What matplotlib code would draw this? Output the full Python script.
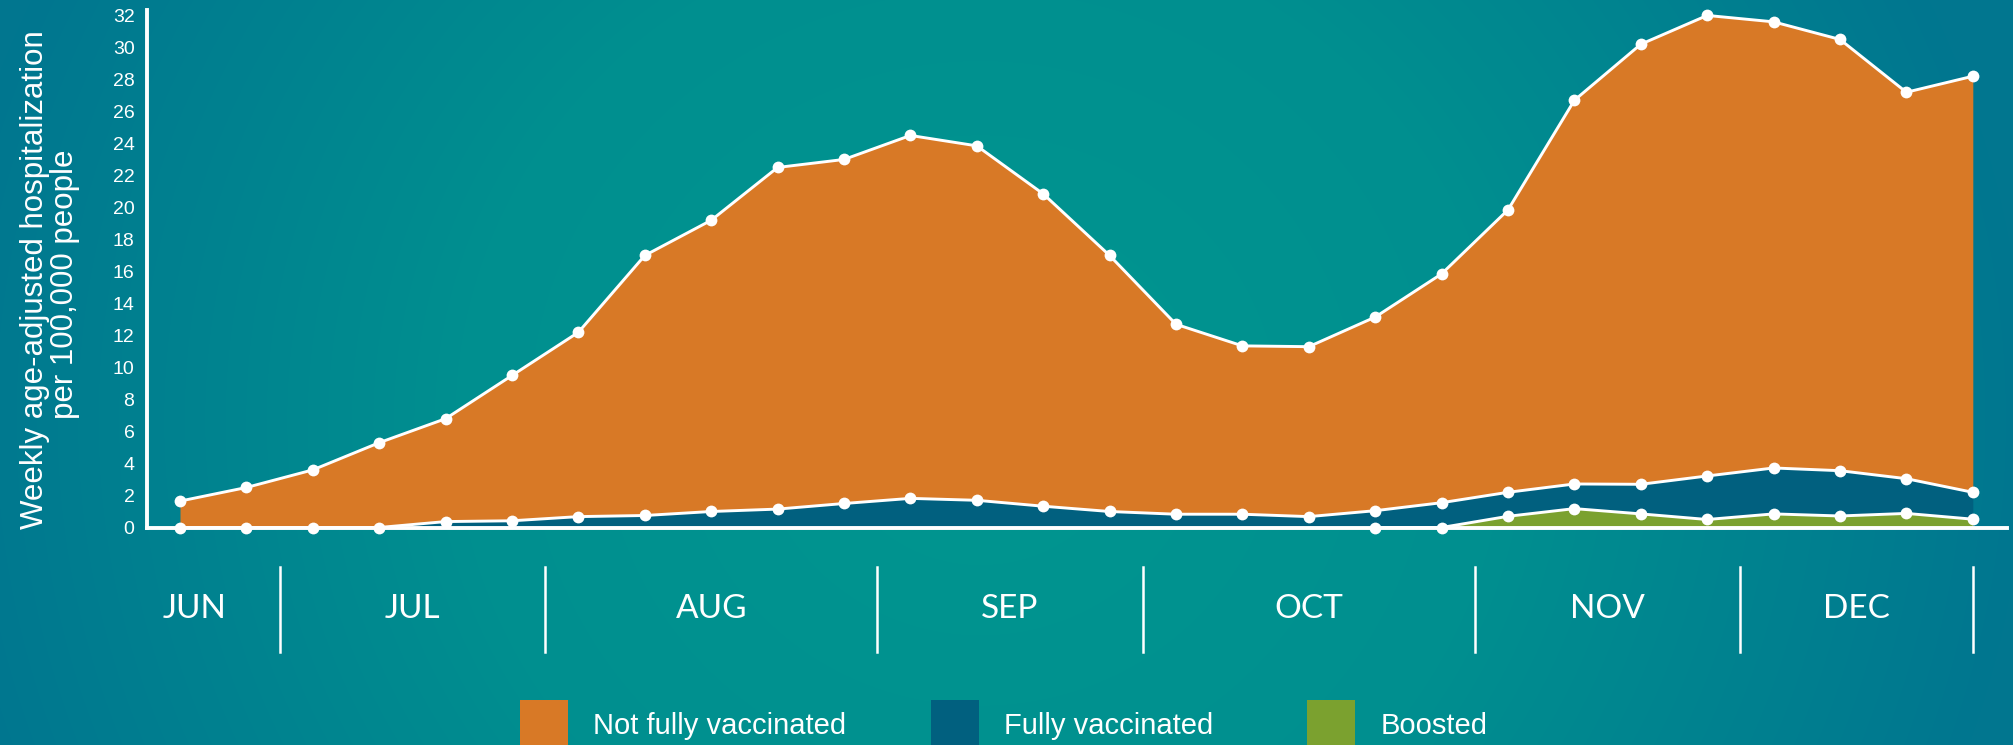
import numpy as np
import matplotlib.pyplot as plt
from matplotlib.patches import Rectangle
from matplotlib.colors import LinearSegmentedColormap

# weekly rates per 100,000 (Jun - Dec)
weeks = np.arange(28)
not_fully = [1.65, 2.5, 3.6, 5.3, 6.43, 9.08, 11.52, 16.25, 18.2, 21.35, 21.5, 22.68, 22.15, 19.52,
             16.0, 11.87, 10.52, 10.62, 12.1, 14.3, 17.65, 23.98, 27.5, 28.78, 27.88, 26.95, 24.15, 26.0]
fully = [0, 0, 0, 0, 0.37, 0.42, 0.68, 0.75, 1.0, 1.15, 1.5, 1.82, 1.7, 1.33,
         1.0, 0.83, 0.83, 0.68, 1.05, 1.55, 1.5, 1.54, 1.85, 2.72, 2.87, 2.83, 2.17, 1.68]
boosted = [np.nan] * 18 + [0, 0, 0.7, 1.18, 0.85, 0.5, 0.85, 0.72, 0.88, 0.52]

months = ["JUN", "JUL", "AUG", "SEP", "OCT", "NOV", "DEC"]
month_edges = [-1.05, 1.5, 5.5, 10.5, 14.5, 19.5, 23.5, 27.0]
yticks = list(range(0, 33, 2))
legend_labels = ["Not fully vaccinated", "Fully vaccinated", "Boosted"]
colors = ["#d87926", "#01607f", "#7ba12f"]

W, H = 2013, 745
fig = plt.figure(figsize=(W / 100, H / 100), dpi=100)

# background gradient
yy, xx = np.mgrid[0:H, 0:W]
t = np.clip(np.sqrt(((xx - 980) / 1050.0) ** 2 + ((yy - 420) / 1000.0) ** 2), 0, 1)
bg_cmap = LinearSegmentedColormap.from_list("bg", ["#00968f", "#008f90", "#01768f"])
bgax = fig.add_axes([0, 0, 1, 1], zorder=-5)
bgax.imshow(t, cmap=bg_cmap, aspect="auto", interpolation="bilinear")
bgax.axis("off")

# stacked lines
b = np.nan_to_num(np.array(boosted))
mid = b + np.array(fully)
top = mid + np.array(not_fully)

ax = fig.add_axes([147 / W, (H - 527.5) / H, (2007 - 147) / W, (527.5 - 10) / H])
ax.patch.set_alpha(0)

ax.fill_between(weeks, mid, top, color=colors[0], lw=0, zorder=1)
ax.fill_between(weeks, b, mid, color=colors[1], lw=0, zorder=1)
ax.fill_between(weeks, 0, b, color=colors[2], lw=0, zorder=1)

line_kw = dict(color="white", lw=2.1, marker="o", ms=8.5, mew=0, clip_on=False, zorder=5)
ax.plot(weeks, top, **line_kw)
ax.plot(weeks, mid, **line_kw)
ax.plot(weeks, np.where(np.isnan(boosted), np.nan, b), **line_kw)

ax.set_xlim(-0.497, 27.515)
ax.set_ylim(0, 32.34)
ax.set_yticks(yticks)
ax.set_xticks([])
ax.tick_params(axis="y", length=0, pad=9, labelsize=14, labelcolor="white")
for lab in ax.get_yticklabels():
    lab.set_fontfamily("Liberation Sans")
for s in ["top", "right"]:
    ax.spines[s].set_visible(False)
for s in ["left", "bottom"]:
    ax.spines[s].set_color("white")
    ax.spines[s].set_linewidth(2.8)
    ax.spines[s].set_zorder(4)

# month labels and dividers
tr = ax.get_xaxis_transform()
for i, m in enumerate(months):
    c = (month_edges[i] + month_edges[i + 1]) / 2
    ax.text(c, -0.1575, m, transform=tr, ha="center", va="center", color="white",
            fontsize=24, family="Lato", clip_on=False)
for e in month_edges[1:]:
    ax.plot([e, e], [-0.0763, -0.2406], transform=tr, color="white", lw=1.8, clip_on=False)

# y label
fig.text(35 / W, (H - 280) / H, "Weekly age-adjusted hospitalization", rotation=90,
         ha="center", va="center", color="white", fontsize=22.5, family="Liberation Sans")
fig.text(65 / W, (H - 284) / H, "per 100,000 people", rotation=90,
         ha="center", va="center", color="white", fontsize=22.5, family="Liberation Sans")

# legend
sq_x = [520, 931, 1307]
txt_x = [593, 1004, 1381]
for lab, col, sx, tx in zip(legend_labels, colors, sq_x, txt_x):
    fig.patches.append(Rectangle((sx / W, 0), 48 / W, 45 / H, transform=fig.transFigure,
                                 color=col, lw=0))
    fig.text(tx / W, (H - 726.5) / H, lab, ha="left", va="center", color="white",
             fontsize=21, family="Liberation Sans")

fig.savefig("out.png", dpi=100)
